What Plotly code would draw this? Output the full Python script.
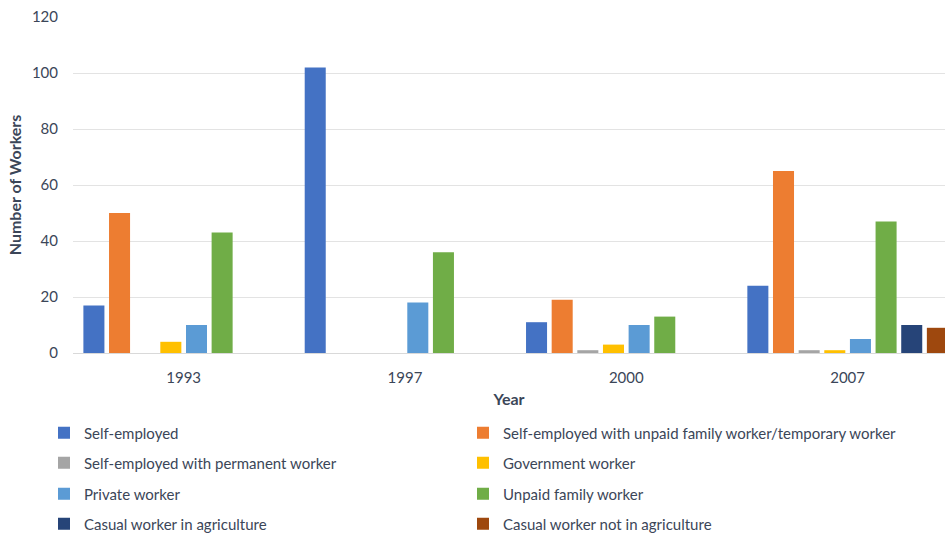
import plotly.graph_objects as go

# Survey years and worker categories
years = ["1993", "1997", "2000", "2007"]

self_employed = [17, 102, 11, 24]
self_employed_unpaid = [50, 0, 19, 65]
self_employed_permanent = [0, 0, 1, 1]
government_worker = [4, 0, 3, 1]
private_worker = [10, 18, 10, 5]
unpaid_family_worker = [43, 36, 13, 47]
casual_agri = [0, 0, 0, 10]
casual_non_agri = [0, 0, 0, 9]

series = [
    ("Self-employed", self_employed, "#4472C4"),
    ("Self-employed with unpaid family worker/temporary worker", self_employed_unpaid, "#ED7D31"),
    ("Self-employed with permanent worker", self_employed_permanent, "#A5A5A5"),
    ("Government worker", government_worker, "#FFC000"),
    ("Private worker", private_worker, "#5B9BD5"),
    ("Unpaid family worker", unpaid_family_worker, "#70AD47"),
    ("Casual worker in agriculture", casual_agri, "#264478"),
    ("Casual worker not in agriculture", casual_non_agri, "#9E480E"),
]

TEXT = "#3B4658"
FONT = "Lato"
W, H = 945, 533

fig = go.Figure()

# each legend entry gets its own legend box: two columns, four rows
col_x = [44, 463]
row_y = [433, 463, 494, 524]
legend_cfg = {}
for i, (name, vals, color) in enumerate(series):
    key = "legend" if i == 0 else f"legend{i + 1}"
    fig.add_trace(go.Bar(
        x=years, y=vals, name=name,
        marker=dict(color=color, line=dict(width=0)),
        legend=key, showlegend=True,
    ))
    legend_cfg[key] = dict(
        visible=True,
        orientation="h",
        xref="container", yref="container",
        x=col_x[i % 2] / W, xanchor="left",
        y=1 - row_y[i // 2] / H, yanchor="middle",
        font=dict(family=FONT, size=15, color=TEXT),
        bgcolor="rgba(0,0,0,0)",
        itemclick=False, itemdoubleclick=False,
    )

fig.update_layout(
    width=W, height=H,
    margin=dict(l=73, r=0, t=17, b=180),
    paper_bgcolor="white", plot_bgcolor="white",
    showlegend=True,
    barmode="group", bargap=0.073, bargroupgap=0.18,
    font=dict(family=FONT, color=TEXT),
    **legend_cfg,
)

fig.update_xaxes(
    range=[-0.5, 3.44],
    showgrid=False, zeroline=False, showline=False,
    ticks="", ticklabelstandoff=14,
    tickfont=dict(family=FONT, size=15, color=TEXT),
    title=dict(text="<b>Year</b>", font=dict(family=FONT, size=16, color=TEXT), standoff=8),
)
fig.update_yaxes(
    range=[0, 120], dtick=20,
    showgrid=True, gridcolor="#E3E3E3", gridwidth=1,
    zeroline=True, zerolinecolor="#D9D9D9", zerolinewidth=1,
    showline=False, ticks="", ticklabelstandoff=14,
    tickfont=dict(family=FONT, size=15, color=TEXT),
    title=dict(text="<b>Number of Workers</b>", font=dict(family=FONT, size=16, color=TEXT), standoff=6),
)

fig.write_html("out.html")
